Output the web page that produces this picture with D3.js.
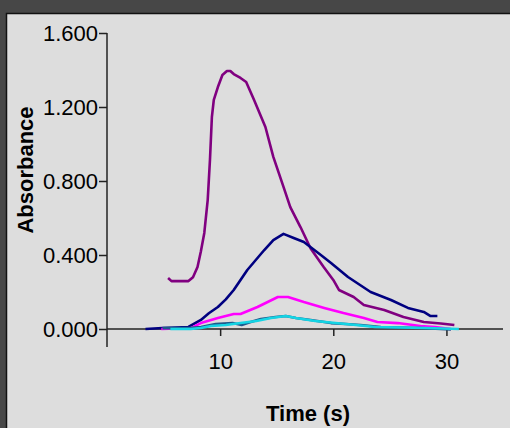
<!DOCTYPE html>
<html>
<head>
<meta charset="utf-8">
<script src="https://cdn.jsdelivr.net/npm/d3@7"></script>
<style>
  html, body { margin: 0; padding: 0; background: #474747; }
  svg { display: block; font-family: Arial, "Liberation Sans", sans-serif; }
</style>
</head>
<body>
<script>
// series: [time (s), absorbance]
var purple = [[5.4,0.276],[5.7,0.259],[7.2,0.259],[7.6,0.28],[8.0,0.335],[8.3,0.42],[8.6,0.519],[8.9,0.697],[9.1,0.914],[9.27,1.146],[9.44,1.238],[9.8,1.308],[10.2,1.373],[10.6,1.395],[10.9,1.395],[11.2,1.378],[11.8,1.357],[12.3,1.335],[13.0,1.238],[14.0,1.092],[14.7,0.93],[15.6,0.768],[16.2,0.659],[17.1,0.551],[18.0,0.435],[19.15,0.335],[20.0,0.265],[20.5,0.211],[21.8,0.173],[22.7,0.13],[24.5,0.103],[26.2,0.065],[28.0,0.038],[29.5,0.03],[30.7,0.022]];
var navy = [[3.4,0],[4.9,0.005],[7.2,0.011],[8.3,0.049],[9.0,0.085],[9.8,0.119],[10.5,0.16],[11.2,0.211],[12.4,0.319],[13.9,0.427],[14.7,0.481],[15.6,0.514],[16.5,0.492],[17.4,0.47],[18.9,0.4],[19.8,0.357],[21.3,0.281],[23.3,0.2],[25.1,0.157],[26.6,0.114],[28.0,0.092],[28.6,0.07],[29.2,0.07]];
var magenta = [[4.8,0],[7.4,0.005],[8.3,0.032],[9.8,0.059],[11.2,0.081],[11.8,0.081],[13.3,0.119],[15.1,0.173],[16.0,0.173],[17.4,0.146],[19.2,0.114],[20.9,0.086],[22.7,0.059],[23.9,0.038],[25.7,0.032],[27.7,0.016],[29.0,0.01],[30.4,0]];
var teal = [[4.9,0.005],[7.2,0.005],[8.3,0.011],[9.6,0.027],[11.1,0.032],[11.9,0.022],[12.7,0.038],[13.6,0.054],[14.9,0.065],[15.8,0.07],[16.7,0.059],[18.0,0.049],[19.8,0.032],[21.1,0.027],[22.4,0.022],[24.2,0.011],[25.9,0.008],[27.7,0.005],[29.5,0],[30.4,-0.003]];
var cyan = [[5.6,0],[7.4,0],[8.3,0.005],[9.2,0.016],[10.5,0.022],[11.8,0.032],[13.2,0.043],[14.5,0.059],[15.8,0.07],[16.7,0.059],[18.4,0.043],[20.2,0.032],[22.0,0.022],[23.7,0.011],[25.9,0.008],[28.2,0.005],[31.1,0]];

var yTicks = [0, 0.4, 0.8, 1.2, 1.6];
var xTicks = [10, 20, 30];

var series = [
  {data: purple, color: "#800080"},
  {data: navy, color: "#000080"},
  {data: magenta, color: "#ff00ff"},
  {data: teal, color: "#1e5a8c"},
  {data: cyan, color: "#14d4e4"}
];

var W = 510, H = 428;
var svg = d3.select("body").append("svg").attr("width", W).attr("height", H);

// panel
svg.append("rect").attr("x", 6.5).attr("y", 13.5).attr("width", W).attr("height", H)
  .attr("fill", "#dddddd").attr("stroke", "#111").attr("stroke-width", 1.5);

var x = d3.scaleLinear().domain([0, 35]).range([107, 503]);
var y = d3.scaleLinear().domain([0, 1.6]).range([329, 33]);

// x axis along zero line
var gx = svg.append("g").attr("transform", "translate(0," + y(0) + ")")
  .call(d3.axisBottom(x).tickValues(xTicks).tickSize(7).tickPadding(17));
gx.select(".domain").attr("d", "M" + x(0) + ",0H" + x(35)).attr("stroke", "#222").attr("stroke-width", 1.5);
gx.selectAll(".tick line").attr("stroke", "#222").attr("stroke-width", 1.5);
gx.selectAll(".tick text").attr("font-size", 22).attr("fill", "#000").attr("font-family", "Arial, 'Liberation Sans', sans-serif");

// y axis
var gy = svg.append("g").attr("transform", "translate(" + x(0) + ",0)")
  .call(d3.axisLeft(y).tickValues(yTicks).tickFormat(d3.format(".3f")).tickSize(8).tickPadding(1));
gy.select(".domain").attr("d", "M0," + y(1.6) + "V" + (y(0) + 18)).attr("stroke", "#222").attr("stroke-width", 1.5);
gy.selectAll(".tick line").attr("stroke", "#222").attr("stroke-width", 1.5);
gy.selectAll(".tick text").attr("font-size", 22).attr("fill", "#000").attr("font-family", "Arial, 'Liberation Sans', sans-serif");

// lines
var line = d3.line().x(function(d){ return x(d[0]); }).y(function(d){ return y(d[1]); });
svg.append("g").selectAll("path").data(series).enter().append("path")
  .attr("d", function(s){ return line(s.data); })
  .attr("fill", "none")
  .attr("stroke", function(s){ return s.color; })
  .attr("stroke-width", 2.6)
  .attr("stroke-linejoin", "round");

// axis titles
svg.append("text").attr("x", 308).attr("y", 421).attr("text-anchor", "middle")
  .attr("font-size", 22).attr("font-weight", "bold").attr("fill", "#000").text("Time (s)");
svg.append("text").attr("transform", "translate(33,170) rotate(-90)").attr("text-anchor", "middle")
  .attr("font-size", 22).attr("font-weight", "bold").attr("fill", "#000").text("Absorbance");
</script>
</body>
</html>
